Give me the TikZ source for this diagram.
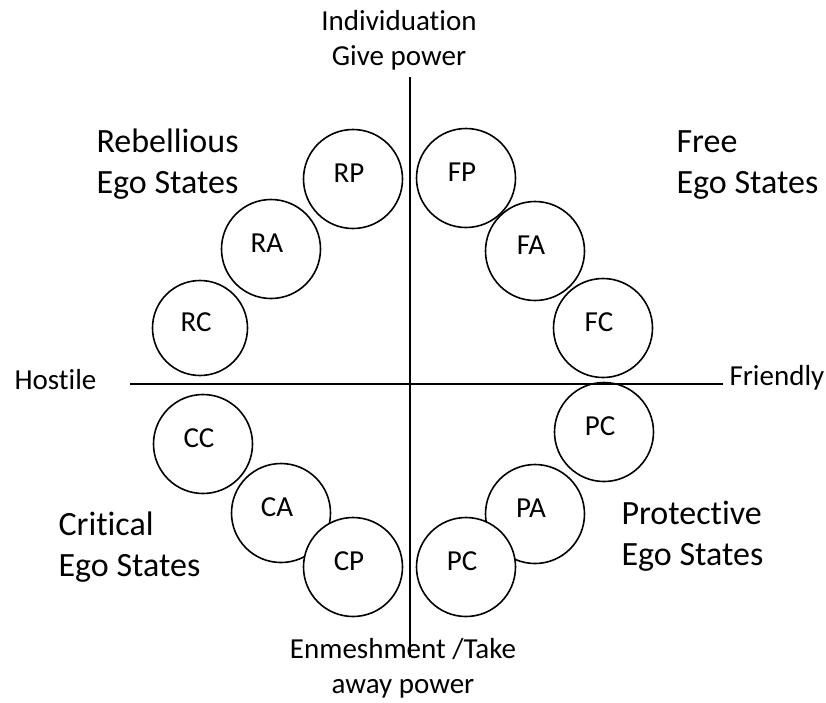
\documentclass[tikz,border=0pt]{standalone}
\usepackage{fontspec}
\setmainfont[Ligatures=NoCommon]{Carlito}
\usepackage{tikz}
\usetikzlibrary{shapes}

\tikzset{
  ego/.style={shape=circle,draw=black,fill=white,line width=1.6pt,minimum size=99pt,inner sep=0pt},
  egotext/.style={xshift=-4pt,yshift=6pt,font=\fontsize{29}{34}\selectfont},
  axistext/.style={align=center,font=\fontsize{29}{35}\selectfont},
  grouptext/.style={align=left,anchor=base west,font=\fontsize{34}{41}\selectfont}
}

\begin{document}
\begin{tikzpicture}[x=1pt,y=-1pt]
\useasboundingbox (0,0) rectangle (826,702);

\node[ego,label={[egotext]center:RP}] (RP) at (353,179) {};
\node[ego,label={[egotext]center:FP}] (FP) at (466,178) {};
\node[ego,label={[egotext]center:RA}] (RA) at (271,249) {};
\node[ego,label={[egotext]center:FA}] (FA) at (535,251) {};
\node[ego,minimum size=95pt,label={[egotext]center:RC}] (RC) at (200,328) {};
\node[ego,label={[egotext]center:FC}] (FC) at (603,328) {};
\node[ego,label={[egotext]center:CC}] (CC) at (203,444) {};
\node[ego,label={[egotext]center:PC}] (PC1) at (604,432) {};
\node[ego,label={[egotext]center:CA}] (CA) at (281,513) {};
\node[ego,label={[egotext]center:PA}] (PA) at (535,514) {};
\node[ego,label={[egotext]center:CP}] (CP) at (353,567) {};
\node[ego,label={[egotext]center:PC}] (PC2) at (466,567) {};

\coordinate (top) at (410,77);
\coordinate (bottom) at (410,657);
\coordinate (left) at (130,384);
\coordinate (right) at (723,384);
\path [draw=black,line width=1.6pt] (top) edge (bottom);
\path [draw=black,line width=1.6pt] (left) edge (right);

\node[axistext,anchor=base] (give) at (399,65) {Individuation\\Give power};
\node[axistext,anchor=base] (take) at (403,693) {Enmeshment /Take\\away power};
\node[axistext,anchor=base west] (hostile) at (11,389) {Hostile};
\node[axistext,anchor=base west] (friendly) at (726,385) {Friendly};

\node[grouptext] (rebel) at (93,193) {Rebellious\\Ego States};
\node[grouptext] (free) at (673,193) {Free\\Ego States};
\node[grouptext] (critical) at (55,576) {Critical\\Ego States};
\node[grouptext] (protect) at (618,565) {Protective\\Ego States};
\end{tikzpicture}
\end{document}
